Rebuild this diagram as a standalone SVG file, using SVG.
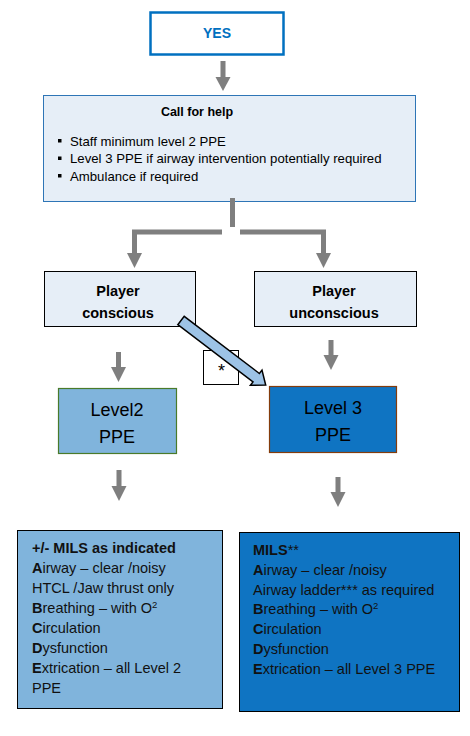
<svg xmlns="http://www.w3.org/2000/svg" width="470" height="736" viewBox="0 0 470 736">
<defs>
<style>
text{font-family:"Liberation Sans",Arial,sans-serif;fill:#000}
.b{font-weight:bold}
.conn{fill:#7f7f7f;stroke:none}
.line{stroke:#7f7f7f;stroke-width:5;fill:none}
.lt{fill:#e6eef7;stroke:#000;stroke-width:1}
.body{font-size:14.5px;fill:#111}
.bul{font-size:13.2px}
</style>
</defs>
<rect width="470" height="736" fill="#fff"/>
<g id="yes">
<rect x="150.5" y="12.5" width="133" height="42" fill="#fff" stroke="#0070c0" stroke-width="2.5"/>
<text x="217" y="38" text-anchor="middle" class="b" font-size="14" style="fill:#0070c0">YES</text>
</g>
<g id="call-for-help">
<rect x="43.5" y="95.5" width="372" height="106" fill="#e6eef7" stroke="#2e75b6" stroke-width="1"/>
<text x="197" y="116" text-anchor="middle" class="b" font-size="12.5">Call for help</text>
<rect x="58" y="139" width="3.5" height="3.5" fill="#000"/>
<rect x="58" y="156.5" width="3.5" height="3.5" fill="#000"/>
<rect x="58" y="174" width="3.5" height="3.5" fill="#000"/>
<text class="bul" x="70" y="145.5">Staff minimum level 2 PPE</text>
<text class="bul" x="70" y="163">Level 3 PPE if airway intervention potentially required</text>
<text class="bul" x="70" y="180.5">Ambulance if required</text>
</g>
<g id="player-conscious">
<rect x="44.5" y="271.5" width="151" height="55" class="lt"/>
<text x="118" y="296" text-anchor="middle" class="b" font-size="14.5">Player</text>
<text x="118" y="318" text-anchor="middle" class="b" font-size="14.5">conscious</text>
</g>
<g id="player-unconscious">
<rect x="254.5" y="271.5" width="162" height="55" class="lt"/>
<text x="334" y="296" text-anchor="middle" class="b" font-size="14.5">Player</text>
<text x="334" y="318" text-anchor="middle" class="b" font-size="14.5">unconscious</text>
</g>
<g id="star">
<rect x="203.5" y="350.5" width="35" height="34" fill="#fff" stroke="#000" stroke-width="1"/>
<text x="221.5" y="377" text-anchor="middle" font-size="18">*</text>
</g>
<g id="level2">
<rect x="58.5" y="388.5" width="118" height="65" fill="#80b4dc" stroke="#4a7a2a" stroke-width="1.2"/>
<text x="117" y="416" text-anchor="middle" font-size="18">Level2</text>
<text x="117" y="443" text-anchor="middle" font-size="18">PPE</text>
</g>
<g id="level3">
<rect x="269.5" y="386.5" width="127" height="66" fill="#0f74c2" stroke="#843c0c" stroke-width="1.2"/>
<text x="333" y="414" text-anchor="middle" font-size="18">Level 3</text>
<text x="333" y="441" text-anchor="middle" font-size="18">PPE</text>
</g>
<g id="left-actions">
<rect x="17.5" y="530.5" width="205" height="178" fill="#80b4dc" stroke="#000" stroke-width="1"/>
<text class="body" x="32" y="553"><tspan class="b">+/- MILS as indicated</tspan></text>
<text class="body" x="32" y="573"><tspan class="b">A</tspan>irway – clear /noisy</text>
<text class="body" x="32" y="593">HTCL /Jaw thrust only</text>
<text class="body" x="32" y="613"><tspan class="b">B</tspan>reathing – with O<tspan font-size="9.5" dy="-5">2</tspan></text>
<text class="body" x="32" y="633"><tspan class="b">C</tspan>irculation</text>
<text class="body" x="32" y="653"><tspan class="b">D</tspan>ysfunction</text>
<text class="body" x="32" y="673"><tspan class="b">E</tspan>xtrication – all Level 2</text>
<text class="body" x="32" y="693">PPE</text>
</g>
<g id="right-actions">
<rect x="239.5" y="532.5" width="220" height="179" fill="#0f74c2" stroke="#000" stroke-width="1"/>
<text class="body" x="253" y="555"><tspan class="b">MILS</tspan>**</text>
<text class="body" x="253" y="575"><tspan class="b">A</tspan>irway – clear /noisy</text>
<text class="body" x="253" y="595">Airway ladder*** as required</text>
<text class="body" x="253" y="614"><tspan class="b">B</tspan>reathing – with O<tspan font-size="9.5" dy="-5">2</tspan></text>
<text class="body" x="253" y="634"><tspan class="b">C</tspan>irculation</text>
<text class="body" x="253" y="654"><tspan class="b">D</tspan>ysfunction</text>
<text class="body" x="253" y="674"><tspan class="b">E</tspan>xtrication – all Level 3 PPE</text>
</g>
<g id="connectors">
<rect class="conn" x="220.5" y="61" width="5" height="17"/>
<polygon class="conn" points="215.5,77 230.5,77 223,91"/>
<rect class="conn" x="230" y="198" width="5" height="29"/>
<polyline class="line" points="222,232 134.5,232 134.5,254"/>
<polygon class="conn" points="127,253 142,253 134.5,268"/>
<polyline class="line" points="240,232 323.5,232 323.5,254"/>
<polygon class="conn" points="316,253 331,253 323.5,268"/>
<rect class="conn" x="116" y="352" width="5" height="16"/>
<polygon class="conn" points="111,367 126,367 118.5,382"/>
<rect class="conn" x="328.5" y="340" width="5" height="16"/>
<polygon class="conn" points="323.5,355 338.5,355 331,370"/>
<rect class="conn" x="116.5" y="470" width="5" height="17"/>
<polygon class="conn" points="111.5,486 126.5,486 119,501"/>
<rect class="conn" x="335.5" y="477" width="5" height="16"/>
<polygon class="conn" points="330.5,492 345.5,492 338,507"/>
<polygon points="177.8,324.7 184.2,316.3 259.4,373.5 262,370.1 265.7,385 250.4,385.3 253,381.9" fill="#9dc3e6" stroke="#000" stroke-width="1.5" stroke-linejoin="miter"/>
</g>
</svg>
